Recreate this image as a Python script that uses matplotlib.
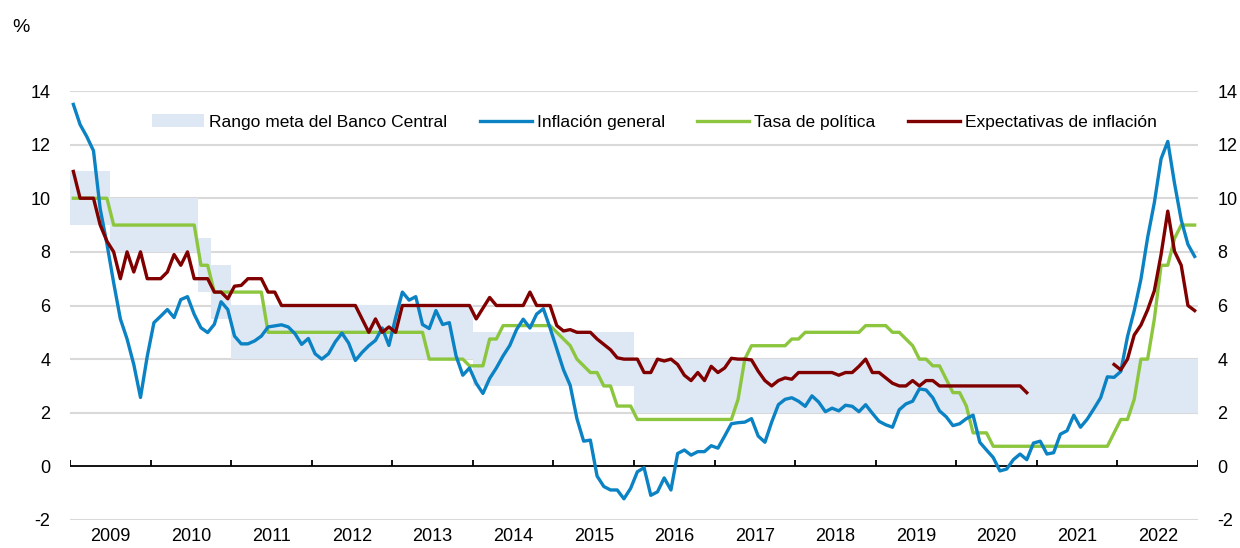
import numpy as np
import matplotlib
matplotlib.use("Agg")
import matplotlib.pyplot as plt

plt.rcParams['font.family'] = ['Liberation Sans', 'DejaVu Sans']

# ---------------- data (monthly, Jan 2009 - Dec 2022) ----------------
years = [str(y) for y in range(2009, 2023)]

inflacion = [
    13.5, 12.75, 12.3, 11.77, 9.6, 8.3, 6.85, 5.5, 4.75, 3.8, 2.57, 4.1,        # 2009
    5.36, 5.6, 5.85, 5.55, 6.22, 6.33, 5.67, 5.17, 4.99, 5.3, 6.14, 5.85,      # 2010
    4.86, 4.57, 4.57, 4.68, 4.86, 5.2, 5.24, 5.28, 5.2, 4.95, 4.55, 4.77,      # 2011
    4.2, 4.0, 4.2, 4.64, 4.97, 4.6, 3.95, 4.25, 4.5, 4.7, 5.16, 4.51,          # 2012
    5.55, 6.5, 6.2, 6.33, 5.29, 5.14, 5.81, 5.29, 5.36, 4.12, 3.4, 3.67,       # 2013
    3.1, 2.72, 3.28, 3.67, 4.12, 4.51, 5.1, 5.49, 5.16, 5.68, 5.88, 5.16,      # 2014
    4.38, 3.6, 3.02, 1.78, 0.94, 0.98, -0.36, -0.75, -0.88, -0.88, -1.21, -0.82,  # 2015
    -0.2, -0.05, -1.08, -0.95, -0.43, -0.88, 0.48, 0.61, 0.42, 0.55, 0.55, 0.77,  # 2016
    0.68, 1.13, 1.59, 1.63, 1.65, 1.78, 1.13, 0.9, 1.65, 2.3, 2.5, 2.56,       # 2017
    2.43, 2.24, 2.63, 2.4, 2.04, 2.17, 2.07, 2.28, 2.24, 2.04, 2.3, 1.98,      # 2018
    1.68, 1.55, 1.46, 2.11, 2.33, 2.43, 2.89, 2.85, 2.56, 2.07, 1.85, 1.52,    # 2019
    1.59, 1.78, 1.91, 0.9, 0.61, 0.33, -0.17, -0.1, 0.25, 0.46, 0.25, 0.87,    # 2020
    0.94, 0.46, 0.51, 1.2, 1.33, 1.91, 1.46, 1.76, 2.15, 2.56, 3.34, 3.32,     # 2021
    3.54, 4.84, 5.81, 6.98, 8.54, 9.84, 11.47, 12.12, 10.56, 9.19, 8.28, 7.83, # 2022
]

tasa_politica = [
    10, 10, 10, 10, 10, 10, 9, 9, 9, 9, 9, 9,
    9, 9, 9, 9, 9, 9, 9, 7.5, 7.5, 6.5, 6.5, 6.5,
    6.5, 6.5, 6.5, 6.5, 6.5, 5, 5, 5, 5, 5, 5, 5,
    5, 5, 5, 5, 5, 5, 5, 5, 5, 5, 5, 5,
    5, 5, 5, 5, 5, 4, 4, 4, 4, 4, 4, 3.75,
    3.75, 3.75, 4.75, 4.75, 5.25, 5.25, 5.25, 5.25, 5.25, 5.25, 5.25, 5.25,
    5.0, 4.75, 4.5, 4.0, 3.75, 3.5, 3.5, 3.0, 3.0, 2.25, 2.25, 2.25,
    1.75, 1.75, 1.75, 1.75, 1.75, 1.75, 1.75, 1.75, 1.75, 1.75, 1.75, 1.75,
    1.75, 1.75, 1.75, 2.5, 4.0, 4.5, 4.5, 4.5, 4.5, 4.5, 4.5, 4.75,
    4.75, 5.0, 5.0, 5.0, 5.0, 5.0, 5.0, 5.0, 5.0, 5.0, 5.25, 5.25,
    5.25, 5.25, 5.0, 5.0, 4.75, 4.5, 4.0, 4.0, 3.75, 3.75, 3.25, 2.75,
    2.75, 2.25, 1.25, 1.25, 1.25, 0.75, 0.75, 0.75, 0.75, 0.75, 0.75, 0.75,
    0.75, 0.75, 0.75, 0.75, 0.75, 0.75, 0.75, 0.75, 0.75, 0.75, 0.75, 1.25,
    1.75, 1.75, 2.5, 4.0, 4.0, 5.5, 7.5, 7.5, 8.5, 9.0, 9.0, 9.0,
]

nan = np.nan
expectativas = [
    11.0, 10.0, 10.0, 10.0, 9.0, 8.4, 8.0, 7.0, 8.0, 7.25, 8.0, 7.0,
    7.0, 7.0, 7.25, 7.9, 7.5, 8.0, 7.0, 7.0, 7.0, 6.5, 6.5, 6.25,
    6.72, 6.75, 7.0, 7.0, 7.0, 6.5, 6.5, 6.0, 6.0, 6.0, 6.0, 6.0,
    6.0, 6.0, 6.0, 6.0, 6.0, 6.0, 6.0, 5.5, 5.0, 5.5, 5.0, 5.2,
    5.0, 6.0, 6.0, 6.0, 6.0, 6.0, 6.0, 6.0, 6.0, 6.0, 6.0, 6.0,
    5.5, 5.9, 6.3, 6.0, 6.0, 6.0, 6.0, 6.0, 6.5, 6.0, 6.0, 6.0,
    5.25, 5.05, 5.1, 5.0, 5.0, 5.0, 4.75, 4.55, 4.35, 4.05, 4.0, 4.0,
    4.0, 3.5, 3.5, 4.0, 3.93, 4.0, 3.8, 3.4, 3.2, 3.5, 3.2, 3.73,
    3.5, 3.67, 4.03, 4.0, 4.0, 3.97, 3.55, 3.2, 3.0, 3.2, 3.3, 3.25,
    3.5, 3.5, 3.5, 3.5, 3.5, 3.5, 3.4, 3.5, 3.5, 3.73, 4.0, 3.5,
    3.5, 3.3, 3.1, 3.0, 3.0, 3.2, 3.0, 3.2, 3.2, 3.0, 3.0, 3.0,
    3.0, 3.0, 3.0, 3.0, 3.0, 3.0, 3.0, 3.0, 3.0, 3.0, 2.75, nan,
    nan, nan, nan, nan, nan, nan, nan, nan, nan, nan, nan, 3.8,
    3.6, 4.0, 4.9, 5.27, 5.84, 6.55, 7.9, 9.52, 8.02, 7.5, 6.0, 5.81,
]

# central bank target range (lower / upper bound), monthly
meta_inferior = [9] * 6 + [8] * 13 + [6.5] * 2 + [5.5] * 3 + [4] * 36 + [3] * 24 + [2] * 84
meta_superior = [11] * 6 + [10] * 13 + [8.5] * 2 + [7.5] * 3 + [6] * 36 + [5] * 24 + [4] * 84

y_ticks = [-2, 0, 2, 4, 6, 8, 10, 12, 14]

# ---------------- figure ----------------
W, H = 1240, 548
fig = plt.figure(figsize=(W / 100, H / 100), dpi=100)
ax_l, ax_r, ax_t, ax_b = 70, 1198, 91, 520
ax = fig.add_axes([ax_l / W, 1 - ax_b / H, (ax_r - ax_l) / W, (ax_b - ax_t) / H])

n = len(inflacion)
x = np.arange(n) + 0.5
edges = np.arange(n + 1)
lo = np.append(meta_inferior, meta_inferior[-1])
hi = np.append(meta_superior, meta_superior[-1])

blue = '#0a82c4'
green = '#8cc63f'
red = '#800000'
band = '#dde8f4'

ax.fill_between(edges, lo, hi, step='post', color=band, lw=0, zorder=1,
                label='Rango meta del Banco Central')
ax.plot(x, inflacion, color=blue, lw=2.4, zorder=4, label='Inflación general',
        solid_joinstyle='round')
ax.plot(x, tasa_politica, color=green, lw=2.4, zorder=3, label='Tasa de política',
        solid_joinstyle='round')
ax.plot(x, expectativas, color=red, lw=2.4, zorder=5, label='Expectativas de inflación',
        solid_joinstyle='round')

# grid
for v in y_ticks:
    if v != 0:
        ax.axhline(v, color='#d9d9d9', lw=1.5, zorder=0.5)
ax.axhline(0, color='black', lw=1.3, zorder=2)
ax.vlines(edges[::12], 0, 0.24, color='black', lw=1.3, zorder=2)

ax.set_xlim(0, n)
ax.set_ylim(-2, 14)
ax.set_yticks(y_ticks)
ax.set_yticklabels([str(v) for v in y_ticks])
ax.set_xticks(np.arange(6, n, 12))
ax.set_xticklabels(years)
ax.tick_params(axis='both', length=0, labelsize=13, colors='black')
ax.tick_params(axis='y', labelright=True, pad=14)
ax.tick_params(axis='x', pad=6)
for s in ax.spines.values():
    s.set_visible(False)

fig.text(12 / W, 1 - 28 / H, '%', fontsize=14, va='center', ha='left')

leg = ax.legend(loc='center left', bbox_to_anchor=(152 / W, 1 - 122 / H),
                bbox_transform=fig.transFigure, ncol=4, frameon=False,
                fontsize=12.5, handlelength=3.0, handletextpad=0.3,
                columnspacing=1.85, borderpad=0, borderaxespad=0, handleheight=0.7)

fig.savefig('out.png', dpi=100)
